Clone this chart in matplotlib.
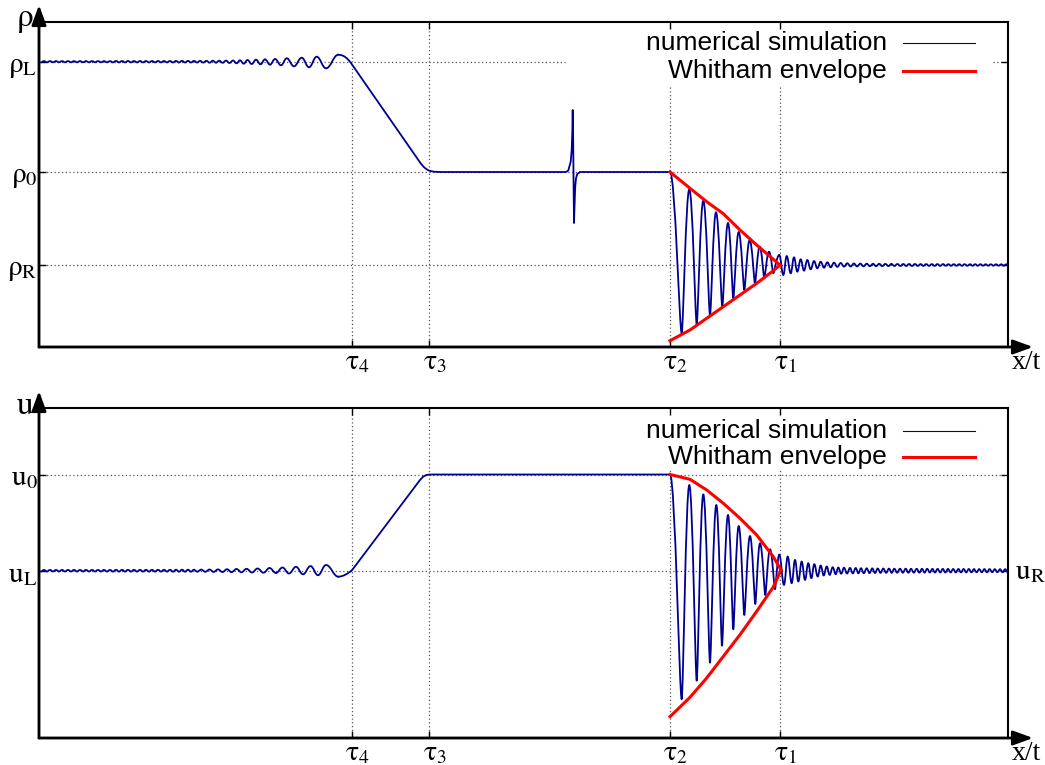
"""Riemann problem: numerical rho(x/t), u(x/t) vs Whitham envelope (recreated)."""
import matplotlib
matplotlib.use("Agg")
import matplotlib.pyplot as plt
from matplotlib.path import Path
from matplotlib.patches import PathPatch
from matplotlib.transforms import ScaledTranslation, blended_transform_factory

plt.rcParams["mathtext.fontset"] = "stix"

# ---- levels and characteristic speeds (arbitrary units) ----
RHO_L, RHO_0, RHO_R = 285.3, 175.0, 82.0
U_0, U_L = 263.5, 167.3
U_R = U_L
TAU = [352, 429, 670, 780]
TAU_LABELS = [r"$\mathrm{\tau_4}$", r"$\mathrm{\tau_3}$", r"$\mathrm{\tau_2}$", r"$\mathrm{\tau_1}$"]
RHO_TICK_LABELS = [r"$\mathrm{\rho_L}$", r"$\mathrm{\rho_0}$", r"$\mathrm{\rho_R}$"]
U_TICK_LABELS = [r"$\mathrm{u_0}$", r"$\mathrm{u_L}$"]

# ---- density: ripples left of the rarefaction (offsets from rho_L) ----
rho_left_x = [41, 44, 47, 50, 53, 56, 59, 62, 65, 68, 71, 74, 77, 80, 83, 86, 89, 92,
              95, 98, 101, 104, 107, 110, 113, 116, 119, 122, 125, 128, 131, 134, 137,
              140, 143, 146, 149, 152, 155, 158, 161, 164, 167, 170, 173, 176, 179, 182,
              185, 188, 191, 194, 197, 200, 203.2, 206.4, 209.6, 212.8, 216, 219.3,
              222.6, 226, 229.5, 233, 236.5, 240, 243.7, 247.5, 251.7, 256, 260.5, 265,
              270, 275, 281, 286.7, 294, 301.7, 309, 316.7, 326, 338.3]
rho_left_dy = [-0.6, 0.6, -0.6, 0.6, -0.6, 0.6, -0.6, 0.6, -0.6, 0.6, -0.6, 0.6,
               -0.6, 0.6, -0.6, 0.6, -0.6, 0.6, -0.6, 0.6, -0.6, 0.6, -0.6, 0.6,
               -0.7, 0.7, -0.7, 0.7, -0.7, 0.7, -0.7, 0.7, -0.7, 0.7,
               -0.7, 0.7, -0.7, 0.7, -0.7, 0.7, -0.7, 0.7, -0.7, 0.7,
               -0.8, 0.8, -0.8, 0.8, -0.8, 0.8, -0.8, 0.8, -0.8, 0.8,
               -0.9, 0.9, -1.0, 1.0, -1.0, 1.0, -1.1, 1.1, -1.3, 1.2, -1.6, 1.4,
               -2.0, 1.7, -2.3, 2.0, -2.6, 2.4, -3.0, 2.7, -3.6, 3.4, -4.6, 4.0,
               -5.6, 5.0, -6.6, 7.0]
# rarefaction ramp, plateau, small soliton, plateau
rho_mid_x = [338.3, 341, 344, 347, 350, 352.7, 418, 421, 424, 427, 430, 434, 440,
             566, 568.3, 570.7, 571.7, 572.3, 572.7, 573.2, 573.6, 574, 574.5, 575.2,
             576, 577.3, 580, 670]
rho_mid_y = [292.3, 292.0, 290.8, 288.6, 285.3, 281.5, 187.5, 183.2, 179.8, 177.4,
             176.0, 175.3, 175.0, 175.0, 176.5, 185.3, 197.0, 215.0, 237.0, 205.0,
             160.0, 124.0, 140.0, 160.0, 168.7, 173.0, 175.0, 175.0]
# dispersive shock wave extrema
rho_dsw_x = [670, 681.7, 689.3, 696.7, 703.3, 710, 716, 722.3, 728, 733.3, 738.7,
             744.3, 749.7, 755, 759.7, 764.3, 769, 773.3, 779.3]
rho_dsw_y = [175.0, 13.7, 157.7, 23.0, 146.3, 31.3, 134.7, 40.3, 124.0, 48.7, 115.0,
             57.0, 107.0, 63.7, 100.3, 68.7, 95.3, 73.7, 92.0]
# ripples right of tau_1 (offsets from rho_R)
rho_right_x = [779.3, 783.3, 786.7, 790.7, 794, 797.3, 800.7, 804, 807.3, 810.7, 814,
               817.3, 820.7, 824, 827.3, 830.7, 834, 837.3, 840.7, 844, 847.3, 850.6,
               853.9, 857.1, 860.3, 863.5, 866.7, 869.9, 873, 876.1, 879.2, 882.3,
               885.4, 888.4, 891.4, 894.4, 897.4, 900.4, 903.3, 906.2, 909.1, 912,
               914.9, 917.8, 920.6, 923.4, 926.2, 929, 931.8, 934.6, 937.4, 940.2, 943,
               945.7, 948.4, 951.1, 953.8, 956.5, 959.2, 961.9, 964.6, 967.3, 970,
               972.6, 975.2, 977.8, 980.4, 983, 985.6, 988.2, 990.8, 993.4, 996, 998.6,
               1001.2, 1003.8, 1006.4, 1009]
rho_right_dy = [10.0, -10.0, 9.0, -8.3, 7.7, -6.7, 5.7, -5.7, 5.0, -4.3, 4.0, -3.3,
                3.3, -2.7, 2.7, -2.3, 2.3, -1.9, 2.0, -1.6, 1.7, -1.5, 1.5, -1.4, 1.4,
                -1.3, 1.3, -1.2, 1.2, -1.2, 1.2, -1.1, 1.1, -1.1, 1.1, -1.0, 1.0, -1.0,
                1.0, -1.0, 1.0, -1.0, 1.0, -0.9, 0.9, -0.9, 0.9, -0.9, 0.9, -0.9, 0.9,
                -0.9, 0.9, -0.8, 0.8, -0.8, 0.8, -0.8, 0.8, -0.8, 0.8, -0.8, 0.8, -0.8,
                0.8, -0.8, 0.8, -0.7, 0.7, -0.7, 0.7, -0.7, 0.7, -0.7, 0.7, -0.7, 0.7, 0.0]
rho_env_up_x = [670, 690, 706.7, 723.3, 740, 756.7, 773.3, 780]
rho_env_up_y = [175.0, 158.7, 145.3, 133.3, 117.0, 102.0, 87.7, 82.0]
rho_env_lo_x = [670, 690, 706.7, 723.3, 740, 756.7, 773.3, 780]
rho_env_lo_y = [6.3, 17.0, 28.7, 40.3, 52.0, 63.7, 76.3, 82.0]

# ---- velocity ----
u_left_x = [41, 44, 47, 50, 53, 56, 59, 62, 65, 68, 71, 74, 77, 80, 83, 86, 89, 92,
            95, 98, 101, 104, 107, 110, 113, 116, 119, 122, 125, 128, 131, 134, 137,
            140, 143, 146, 149, 152, 155, 158, 161, 164, 167, 170, 173, 176, 179, 182,
            185, 188, 191, 194, 197.2, 201.2, 205.3, 209.5, 213.7, 218, 222.5, 227,
            231.5, 236.5, 241.5, 246.5, 252, 257.5, 263.5, 269.5, 276, 282.5, 289, 296,
            303, 310.5, 318, 326, 338.3]
u_left_dy = [-0.8, 0.8, -0.8, 0.8, -0.8, 0.8, -0.8, 0.8, -0.8, 0.8, -0.8, 0.8,
             -0.8, 0.8, -0.8, 0.8, -0.8, 0.8, -0.8, 0.8, -0.8, 0.8, -0.8, 0.8,
             -0.9, 0.9, -0.9, 0.9, -0.9, 0.9, -0.9, 0.9, -0.9, 0.9,
             -0.9, 0.9, -0.9, 0.9, -0.9, 0.9, -0.9, 0.9, -0.9, 0.9,
             -1.0, 1.0, -1.0, 1.0, -1.0, 1.0, -1.0, 1.0,
             -1.0, 1.1, -1.1, 1.2, -1.2, 1.3, -1.3, 1.5, -1.4, 1.7, -1.6, 1.9, -1.8,
             2.2, -2.0, 2.7, -2.3, 3.2, -2.8, 3.9, -3.6, 4.6, -4.5, 5.7, -6.0]
u_mid_x = [338.3, 341, 344, 347, 350, 352, 420, 423, 426, 429, 433, 670]
u_mid_y = [161.3, 161.6, 162.6, 164.2, 166.2, 167.8, 258.0, 261.2, 262.9, 263.4,
           263.5, 263.5]
u_dsw_x = [670, 681.7, 689.3, 696.7, 703.3, 710, 716.3, 722, 728, 733.3, 738.7,
           744.3, 750, 755.3, 760, 765.3, 770, 775, 779.3]
u_dsw_y = [263.5, 38.7, 253.0, 57.3, 243.7, 75.3, 233.0, 92.3, 223.0, 108.7, 212.0,
           123.0, 202.0, 134.0, 194.7, 143.0, 188.7, 148.7, 183.3]
u_right_x = [779.3, 784, 787.7, 791.7, 795, 798.3, 801.7, 805, 808.3, 811.3, 814.3,
             817.7, 820.7, 823.7, 826.7, 829.7, 832.7, 835.7, 838.3, 841.2, 844, 847,
             850, 852.8, 855.7, 858.4, 861, 863.8, 866.7, 869.5, 872.3, 875, 877.7,
             880.5, 883.3, 886.2, 889, 891.7, 894.3, 897.2, 900, 902.8, 905.7, 908.4,
             911, 913.8, 916.7, 919.4, 922, 924.6, 927.2, 929.8, 932.4, 935, 937.6,
             940.2, 942.8, 945.4, 948, 950.6, 953.2, 955.8, 958.4, 961, 963.6, 966.2,
             968.8, 971.4, 974, 976.6, 979.2, 981.8, 984.4, 987, 989.6, 992.2, 994.8,
             997.4, 1000, 1002.6, 1005.2, 1007.8]
u_right_dy = [16.0, -14.2, 14.2, -12.5, 10.8, -10.8, 9.2, -9.2, 7.5, -7.5, 6.5, -5.8,
              5.2, -4.8, 4.2, -4.2, 3.5, -3.5, 3.2, -3.0, 3.0, -2.8, 2.8, -2.7, 2.7,
              -2.6, 2.5, -2.5, 2.4, -2.4, 2.3, -2.3, 2.2, -2.2, 2.2, -2.1, 2.1, -2.1,
              2.0, -2.0, 2.0, -2.0, 2.0, -2.0, 1.9, -1.9, 1.9, -1.9, 1.9, -1.9, 1.9,
              -1.8, 1.8, -1.8, 1.8, -1.8, 1.8, -1.8, 1.8, -1.7, 1.7, -1.7, 1.7, -1.7,
              1.7, -1.7, 1.7, -1.6, 1.6, -1.6, 1.6, -1.6, 1.6, -1.6, 1.6, -1.5, 1.5,
              -1.5, 1.5, -1.5, 1.5, -1.5]
u_env_up_x = [670, 690, 706.7, 723.3, 740, 756.7, 773.3, 781]
u_env_up_y = [263.5, 258.7, 248.0, 234.7, 219.7, 203.0, 181.3, 168.0]
u_env_lo_x = [670, 690, 706.7, 740, 756.7, 773.3, 781]
u_env_lo_y = [21.3, 40.7, 60.0, 103.3, 126.7, 151.0, 168.0]

BLUE = "#000090"
RED = "#ff0000"
GRID = "#555555"


def smooth_path(xs, ys, h_max=0.4, h_min=0.4):
    """Cubic Bezier through extrema with horizontal tangents."""
    n = len(xs)

    def h(i):
        lo = (i == 0 or ys[i] < ys[i - 1]) and (i == n - 1 or ys[i] < ys[i + 1])
        return h_min if lo else h_max

    verts = [(xs[0], ys[0])]
    codes = [Path.MOVETO]
    for i in range(n - 1):
        dx = xs[i + 1] - xs[i]
        verts += [(xs[i] + h(i) * dx, ys[i]), (xs[i + 1] - h(i + 1) * dx, ys[i + 1]),
                  (xs[i + 1], ys[i + 1])]
        codes += [Path.CURVE4] * 3
    return Path(verts, codes)


def add_curve(ax, xs, ys, **kw):
    ax.add_patch(PathPatch(smooth_path(xs, ys, **kw), fill=False, edgecolor=BLUE,
                           lw=1.3, joinstyle="round", capstyle="round", zorder=3))


def style_panel(ax, height_px, ylabel, yticks, yticklabels, key_y, gap_top, hlines):
    ax.set_xlim(39, 1008)
    ax.set_ylim(0, height_px)
    for s in ax.spines.values():
        s.set_linewidth(1.5)
    ax.set_xticks(TAU)
    ax.set_xticklabels(TAU_LABELS, fontsize=20)
    ax.set_yticks(yticks)
    ax.set_yticklabels(yticklabels, fontsize=21)
    ax.tick_params(direction="in", length=5, width=1, top=True, right=True)
    ax.tick_params(axis="x", pad=0)
    ax.tick_params(axis="y", pad=1)
    off = ScaledTranslation(4 / 72, 0, ax.figure.dpi_scale_trans)
    for lab in ax.get_xticklabels():
        lab.set_transform(lab.get_transform() + off)

    # dotted grid, blanked under the key
    dots = dict(color=GRID, lw=0.9, ls=(0, (1, 2)), zorder=1)
    for i, t in enumerate(TAU):
        ax.axvline(t, ymin=0, ymax=gap_top if i >= 2 else 1.0, **dots)
    for yv, xmax, x2 in hlines:
        ax.axhline(yv, xmin=0, xmax=xmax, **dots)
        if x2 is not None:
            ax.axhline(yv, xmin=x2, xmax=1, **dots)

    # axis arrows
    ap = dict(arrowstyle="-|>,head_length=0.6,head_width=0.22", lw=2, color="k",
              mutation_scale=20, shrinkA=0, shrinkB=0)
    ax.annotate("", xy=(0, 1 + 17 / height_px), xytext=(0, 0), xycoords="axes fraction",
                arrowprops=ap, annotation_clip=False)
    ax.annotate("", xy=(1 + 25 / 969, 0), xytext=(0, 0), xycoords="axes fraction",
                arrowprops=ap, annotation_clip=False)
    ax.text(-14 / 969, 1 + 4 / height_px, ylabel, transform=ax.transAxes, ha="center",
            va="center", fontsize=24)
    ax.text(1 + 18 / 969, -15 / height_px, "x/t", transform=ax.transAxes, ha="center",
            va="center", fontsize=20, family="Liberation Serif")

    # key
    for txt, col, lw, yk in [("numerical simulation", BLUE, 0.8, key_y[0]),
                             ("Whitham envelope", RED, 2.2, key_y[1])]:
        ax.text(0.8751, yk, txt, transform=ax.transAxes, ha="right", va="center",
                fontsize=19, family="Liberation Sans")
        ax.plot([0.8916, 0.9659], [yk, yk], transform=ax.transAxes, color=col, lw=lw,
                clip_on=False)


fig = plt.figure(figsize=(10.45, 7.65), dpi=100)
ax1 = fig.add_axes([39 / 1045, 418 / 765, 969 / 1045, 325 / 765])
ax2 = fig.add_axes([39 / 1045, 27 / 765, 969 / 1045, 330 / 765])

# ---- top: density ----
style_panel(ax1, 325, r"$\mathrm{\rho}$", [RHO_L, RHO_0, RHO_R], RHO_TICK_LABELS,
            (0.9354, 0.8492), 0.803,
            [(RHO_L, 0.5428, 0.9845), (RHO_0, 1.0, None), (RHO_R, 1.0, None)])
add_curve(ax1, rho_left_x, [RHO_L + d for d in rho_left_dy])
ax1.plot(rho_mid_x, rho_mid_y, color=BLUE, lw=1.3, solid_joinstyle="round", zorder=3)
add_curve(ax1, rho_dsw_x, rho_dsw_y, h_max=0.45, h_min=0.2)
add_curve(ax1, rho_right_x, [RHO_R + d for d in rho_right_dy])
ax1.plot(rho_env_up_x, rho_env_up_y, color=RED, lw=2.2, zorder=4)
ax1.plot(rho_env_lo_x, rho_env_lo_y, color=RED, lw=2.2, zorder=4)

# ---- bottom: velocity ----
style_panel(ax2, 330, r"$\mathrm{u}$", [U_0, U_L], U_TICK_LABELS,
            (0.9303, 0.8515), 0.818, [(U_0, 1.0, None), (U_L, 1.0, None)])
add_curve(ax2, u_left_x, [U_L + d for d in u_left_dy])
ax2.plot(u_mid_x, u_mid_y, color=BLUE, lw=1.3, solid_joinstyle="round", zorder=3)
add_curve(ax2, u_dsw_x, u_dsw_y, h_max=0.45, h_min=0.2)
add_curve(ax2, u_right_x, [U_R + d for d in u_right_dy])
ax2.plot(u_env_up_x, u_env_up_y, color=RED, lw=2.2, zorder=4)
ax2.plot(u_env_lo_x, u_env_lo_y, color=RED, lw=2.2, zorder=4)
tr = blended_transform_factory(ax2.transAxes, ax2.transData)
ax2.text(1.007, U_R, r"$\mathrm{u_R}$", transform=tr, ha="left", va="center",
         fontsize=21)

fig.savefig("out.png", dpi=100)
